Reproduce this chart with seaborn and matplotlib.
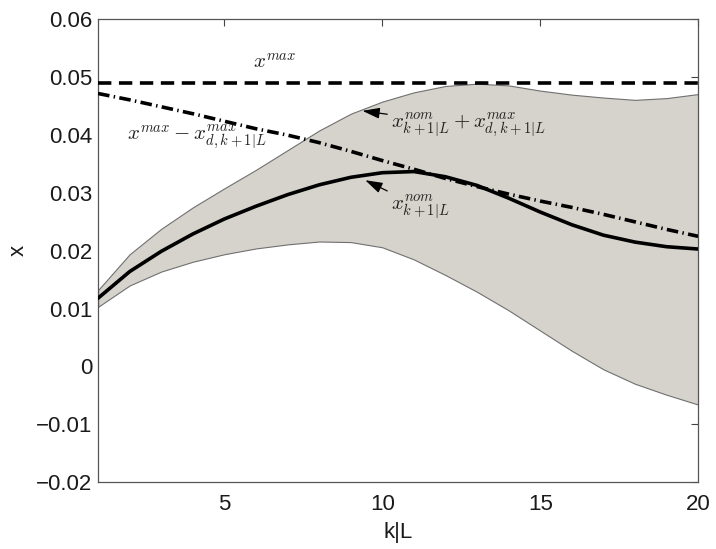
import matplotlib
matplotlib.use("Agg")
import matplotlib.pyplot as plt
import pandas as pd
import seaborn as sns

# prediction steps
k = list(range(1, 21))

# nominal state trajectory
x_nom = [0.0118, 0.0164, 0.0199, 0.0229, 0.0255, 0.0277, 0.0297, 0.0314, 0.0327, 0.0335,
         0.0337, 0.0328, 0.0313, 0.0291, 0.0267, 0.0245, 0.0227, 0.0215, 0.0207, 0.0203]

# upper / lower limits of the disturbance tube around the nominal trajectory
x_upper = [0.0132, 0.0194, 0.0238, 0.0275, 0.0308, 0.0340, 0.0374, 0.0408, 0.0437, 0.0458,
           0.0474, 0.0485, 0.0489, 0.0486, 0.0477, 0.0470, 0.0465, 0.0461, 0.0464, 0.0471]
x_lower = [0.0103, 0.0140, 0.0164, 0.0181, 0.0194, 0.0204, 0.0211, 0.0216, 0.0215, 0.0206,
           0.0185, 0.0158, 0.0129, 0.0097, 0.0062, 0.0027, -0.0005, -0.0030, -0.0049, -0.0066]

# tightened constraint x^max - x_d^max
x_tight = [0.0472, 0.0461, 0.0449, 0.0437, 0.0424, 0.0411, 0.0400, 0.0387, 0.0372, 0.0356,
           0.0341, 0.0325, 0.0311, 0.0298, 0.0286, 0.0275, 0.0263, 0.0250, 0.0237, 0.0225]

# state constraint
x_max = 0.049

y_ticks = [-0.02, -0.01, 0, 0.01, 0.02, 0.03, 0.04, 0.05, 0.06]
y_ticklabels = ["\u22120.02", "\u22120.01", "0", "0.01", "0.02", "0.03", "0.04", "0.05", "0.06"]
x_ticks = [5, 10, 15, 20]

df = pd.DataFrame({"k": k, "nom": x_nom, "up": x_upper, "lo": x_lower,
                   "tight": x_tight, "xmax": [x_max] * len(k)})

sns.set_style("white")
plt.rcParams["font.family"] = ["Liberation Sans", "DejaVu Sans"]
plt.rcParams["mathtext.fontset"] = "cm"

fig = plt.figure(figsize=(7.16, 5.49), dpi=100)
ax = fig.add_axes([0.137, 0.122, 0.838, 0.8425])

# disturbance tube
ax.fill_between(df["k"], df["lo"], df["up"], facecolor="#d6d3cc",
                edgecolor="#707070", linewidth=0.8, zorder=1)

# constraint, tightened constraint and nominal trajectory
sns.lineplot(data=df, x="k", y="xmax", ax=ax, color="black", linewidth=2.6, zorder=3)
ax.lines[-1].set_dashes((3.7, 2.1))
sns.lineplot(data=df, x="k", y="tight", ax=ax, color="black", linewidth=2.6, zorder=3)
ax.lines[-1].set_dashes((3.2, 1.2, 0.4, 1.2))
sns.lineplot(data=df, x="k", y="nom", ax=ax, color="black", linewidth=2.6, zorder=4)

ax.set_xlim(1, 20)
ax.set_ylim(-0.02, 0.06)
ax.set_xticks(x_ticks)
ax.set_yticks(y_ticks)
ax.set_yticklabels(y_ticklabels)
ax.tick_params(direction="in", length=5, width=0.8, color="#444444",
               labelsize=16, top=True, right=True, labelcolor="#1a1a1a")
ax.tick_params(axis="y", pad=4)
ax.tick_params(axis="x", pad=8.5)
for s in ax.spines.values():
    s.set_color("#555555")
    s.set_linewidth(0.9)
ax.set_xlabel("k|L", fontsize=16, labelpad=5, color="#1a1a1a")
ax.set_ylabel("x", fontsize=16, labelpad=5, color="#1a1a1a")

txt = dict(fontsize=15, color="#222222")
arrow = dict(arrowstyle="-|>,head_length=0.7,head_width=0.22",
             color="black", lw=0.9, shrinkA=0, shrinkB=0)

ax.text(6.6, 0.0526, r"$x^{max}$", ha="center", va="center", **txt)
ax.text(1.92, 0.0397, r"$x^{max} - x^{max}_{d,k+1|L}$", ha="left", va="center", **txt)
ax.annotate(r"$x^{nom}_{k+1|L} + x^{max}_{d,k+1|L}$", xy=(9.37, 0.0442),
            xytext=(10.26, 0.0417), ha="left", va="center", arrowprops=arrow, **txt)
ax.annotate(r"$x^{nom}_{k+1|L}$", xy=(9.46, 0.0322), xytext=(10.26, 0.0276),
            ha="left", va="center", arrowprops=arrow, **txt)

fig.savefig("out.png", dpi=100)
